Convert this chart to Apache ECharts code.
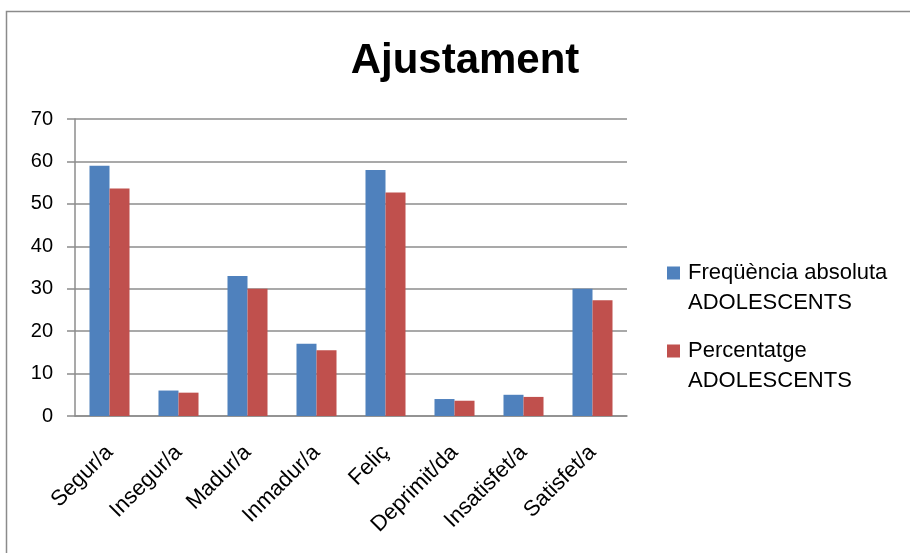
<!DOCTYPE html>
<html>
<head>
<meta charset="utf-8">
<script src="https://cdn.jsdelivr.net/npm/echarts@6/dist/echarts.min.js"></script>
<style>html,body{margin:0;padding:0;background:#fff}#c{width:910px;height:553px}</style>
</head>
<body>
<div id="c"></div>
<script>
var titleText = 'Ajustament';
var categories = ['Segur/a', 'Insegur/a', 'Madur/a', 'Inmadur/a', 'Feliç', 'Deprimit/da', 'Insatisfet/a', 'Satisfet/a'];
var seriesNames = ['Freqüència absoluta\nADOLESCENTS', 'Percentatge\nADOLESCENTS'];
var freqValues = [59, 6, 33, 17, 58, 4, 5, 30];
var pctValues = [53.6, 5.5, 30.0, 15.5, 52.7, 3.6, 4.5, 27.3];
var yTicks = [0, 10, 20, 30, 40, 50, 60, 70];

var FONT = '"Liberation Sans", Arial, sans-serif';
var gridColor = '#8c8c8c';
var chart = echarts.init(document.getElementById('c'), null, {renderer: 'canvas'});
chart.setOption({
  backgroundColor: '#ffffff',
  animation: false,
  title: {
    text: titleText,
    left: 460, top: 35, textAlign: 'center',
    textStyle: {fontFamily: FONT, fontSize: 42, fontWeight: 'bold', color: '#000'}
  },
  graphic: [{
    type: 'rect', silent: true,
    shape: {x: 6.5, y: 11.5, width: 1000, height: 1000},
    style: {fill: 'none', stroke: '#8b8b8b', lineWidth: 1.5}
  }],
  legend: {
    orient: 'vertical', left: 662, top: 253,
    itemWidth: 13, itemHeight: 43, itemGap: 18,
    icon: 'path://M0,0L13,0L13,13L0,13Z M0,43L13,43L13,43Z',
    itemStyle: {borderWidth: 0},
    textStyle: {fontFamily: FONT, fontSize: 22, lineHeight: 30, color: '#000', padding: [0, 0, 0, 3]},
    data: seriesNames
  },
  grid: {left: 75, right: 283, top: 119, bottom: 137, containLabel: false},
  xAxis: {
    type: 'category', data: categories,
    axisLine: {lineStyle: {color: gridColor, width: 1.5}},
    axisTick: {show: false},
    axisLabel: {interval: 0, rotate: 45, margin: 33, fontFamily: FONT, fontSize: 22, color: '#000'}
  },
  yAxis: {
    type: 'value', min: yTicks[0], max: yTicks[yTicks.length - 1], interval: yTicks[1] - yTicks[0],
    axisLine: {show: true, lineStyle: {color: gridColor, width: 1.5}},
    axisTick: {show: true, length: 8, lineStyle: {color: gridColor, width: 1.5}},
    splitLine: {lineStyle: {color: gridColor, width: 1.5}},
    axisLabel: {margin: 22, fontFamily: FONT, fontSize: 20, color: '#000'}
  },
  series: [{
    name: seriesNames[0], type: 'bar', data: freqValues,
    barGap: '0%', barCategoryGap: '42%',
    itemStyle: {color: '#4f81bd'}
  }, {
    name: seriesNames[1], type: 'bar', data: pctValues,
    barGap: '0%', barCategoryGap: '42%',
    itemStyle: {color: '#c0504d'}
  }]
});
</script>
</body>
</html>
